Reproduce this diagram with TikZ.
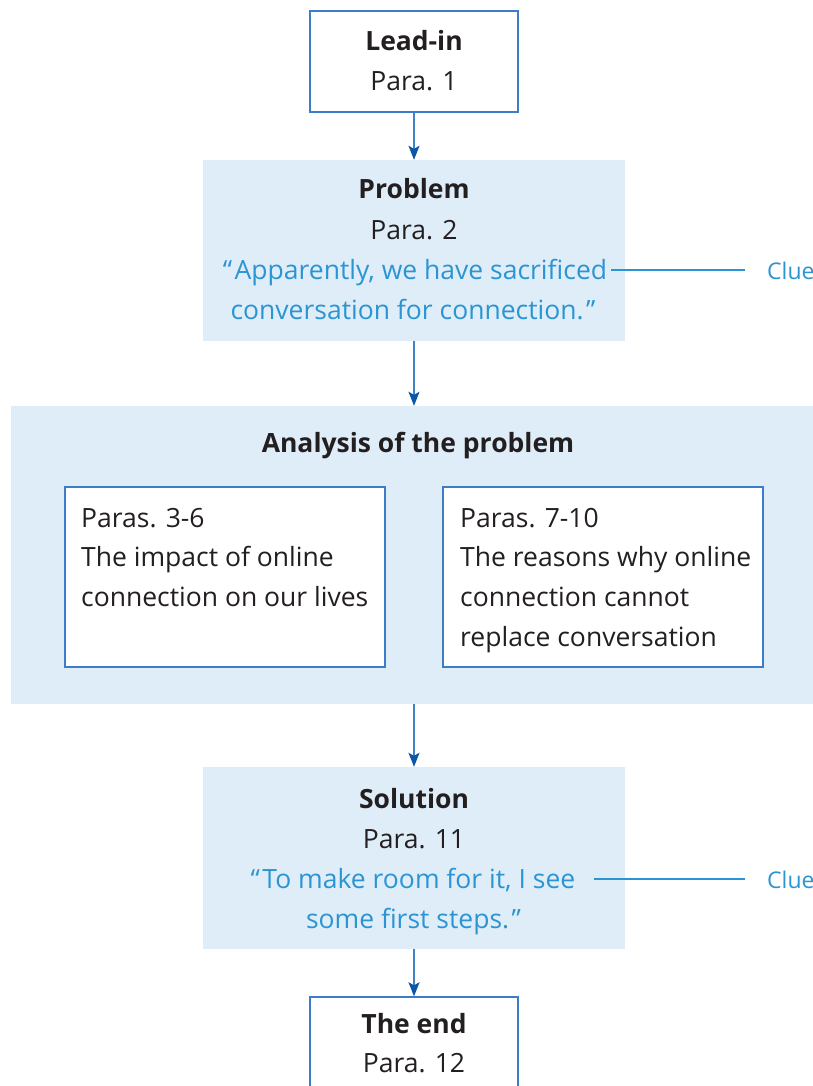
\documentclass[tikz,border=0pt]{standalone}
\usepackage{fontspec}
\setmainfont{Open Sans}
\usetikzlibrary{arrows.meta,calc}
\definecolor{ink}{HTML}{231F20}
\definecolor{quoteblue}{HTML}{2B95D3}
\definecolor{panel}{HTML}{DFEDF8}
\definecolor{frame}{HTML}{3D7CC9}
\definecolor{shaft}{HTML}{3F82C8}
\definecolor{tipblue}{HTML}{0B57A6}
\newcommand{\oq}{“\kern2.5pt}
\newcommand{\cq}{\kern2.5pt”}
\tikzset{
  txt/.style={anchor=base, inner sep=0pt, text=ink, font=\fontsize{26.5}{40}\selectfont},
  headline/.style={txt, font=\fontsize{26.5}{40}\selectfont\bfseries},
  leftline/.style={txt, anchor=base west},
  quoteline/.style={txt, text=quoteblue},
  cluetext/.style={anchor=base west, inner sep=0pt, text=quoteblue, font=\fontsize{23}{27}\selectfont},
  whitebox/.style={draw=frame, line width=1.4pt, fill=white, inner sep=0pt},
  panelbox/.style={fill=panel, inner sep=0pt},
  flow/.style={draw=shaft, line width=1.5pt, -{Stealth[length=14pt,width=11pt,inset=3pt,color=tipblue]}},
  clueline/.style={draw=quoteblue, line width=1.2pt},
}
\begin{document}
\begin{tikzpicture}[x=1pt,y=-1pt]
\useasboundingbox (0,0) rectangle (813,1086);
\clip (0,0) rectangle (813,1086);

% frames and panels
\node[whitebox, minimum width=208pt, minimum height=101pt] (lead) at (414,61.5) {};
\node[panelbox, minimum width=422pt, minimum height=181pt] (prob) at (414,250.5) {};
\node[panelbox, minimum width=804pt, minimum height=298pt] (analysis) at (413,555) {};
\node[whitebox, minimum width=320pt, minimum height=180pt] (left) at (225,577) {};
\node[whitebox, minimum width=320pt, minimum height=180pt] (right) at (603,577) {};
\node[panelbox, minimum width=422pt, minimum height=182pt] (sol) at (414,858) {};
\node[whitebox, minimum width=208pt, minimum height=103pt] (theend) at (414,1048.5) {};

% Lead-in
\node[headline] (leadt) at (414,51) {Lead-in};
\node[txt] (leadp) at (414,91) {Para. 1};

% Problem
\node[headline] (probt) at (414,199) {Problem};
\node[txt] (probp) at (414,239) {Para. 2};
\node[quoteline] (pq1) at (415,279) {\oq Apparently, we have sacrificed};
\node[quoteline] (pq2) at (413,319) {conversation for connection.\cq};
\node[cluetext] (clue1) at (767,279) {Clue};

% Analysis
\node[headline] (anat) at (418,452) {Analysis of the problem};
\node[leftline] (l1) at (81,527) {Paras. 3-6};
\node[leftline] (l2) at (81,566) {The impact of online};
\node[leftline] (l3) at (81,606) {connection on our lives};
\node[leftline] (r1) at (460,527) {Paras. 7-10};
\node[leftline] (r2) at (460,566) {The reasons why online};
\node[leftline] (r3) at (460,606) {connection cannot};
\node[leftline] (r4) at (460,646) {replace conversation};

% Solution
\node[headline] (solt) at (414,808) {Solution};
\node[txt] (solp) at (414,848) {Para. 11};
\node[quoteline] (sq1) at (413,888) {\oq To make room for it, I see};
\node[quoteline] (sq2) at (413.5,928) {some first steps.\cq};
\node[cluetext] (clue2) at (767,888) {Clue};

% The end
\node[headline] (endt) at (414,1033) {The end};
\node[txt] (endp) at (414,1072) {Para. 12};

% connectors
\draw[flow] (lead.south) -- (prob.north);
\draw[flow] (prob.south) -- (prob.south |- analysis.north);
\draw[flow] (prob.south |- analysis.south) -- (sol.north);
\draw[flow] (sol.south) -- (theend.north);

\draw[clueline] ($(pq1.base east)+(4,-9)$) -- ($(clue1.base west)+(-22,-9)$);
\draw[clueline] ($(sq1.base east)+(18,-9)$) -- ($(clue2.base west)+(-22,-9)$);
\end{tikzpicture}
\end{document}
